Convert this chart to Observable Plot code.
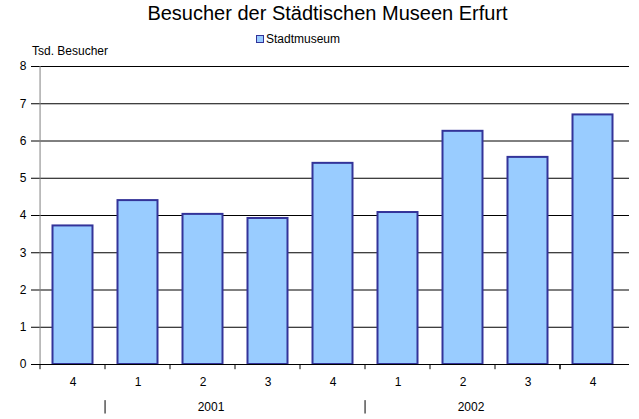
<!DOCTYPE html>
<html><head><meta charset="utf-8">
<script src="https://cdn.jsdelivr.net/npm/d3@7"></script>
<script src="https://cdn.jsdelivr.net/npm/@observablehq/plot@0.6"></script>
<style>
body{margin:0;background:#fff;font-family:"Liberation Sans",Arial,sans-serif;}
#wrap{position:relative;width:639px;height:419px;}
#title{position:absolute;left:8px;width:639px;top:2px;text-align:center;font-size:20px;color:#000;}
#ylab{position:absolute;left:32px;top:44px;font-size:12px;}
#legend{position:absolute;left:256px;top:32px;font-size:12px;display:flex;align-items:center;}
#legend span.sw{display:inline-block;width:6px;height:6px;background:#99CCFF;border:1.5px solid #333399;margin-right:2px;}
svg{position:absolute;left:0;top:0;}
</style></head>
<body><div id="wrap">
<div id="title">Besucher der Städtischen Museen Erfurt</div>
<div id="ylab">Tsd. Besucher</div>
<div id="legend"><span class="sw"></span>Stadtmuseum</div>
</div>
<script>
const slots = ["0","1","2","3","4","5","6","7","8"];
const quarters = ["4","1","2","3","4","1","2","3","4"];
const values = [3.72, 4.40, 4.03, 3.92, 5.40, 4.08, 6.26, 5.56, 6.70];
const years = ["2001", "2002"];
const yearSlots = ["2", "6"];
const yearStartSlots = ["1", "5"];
const yTicks = [0,1,2,3,4,5,6,7,8];

const data = slots.map((s,i)=>({slot:s, q:quarters[i], v:values[i]}));
const W = 639, H = 419, mL = 36, mR = 10, mT = 66, mB = 55;
const bw = (W - mL - mR) / slots.length;
const boundaries = slots.map(s=>({slot:s, side:-1})).concat([{slot:slots[slots.length-1], side:1}]);

const chart = Plot.plot({
  width: W, height: H,
  marginLeft: mL, marginRight: mR, marginTop: mT, marginBottom: mB,
  style: {fontFamily: "Liberation Sans, Arial, sans-serif", fontSize: "12px", background: "transparent", color: "#000"},
  x: {type: "band", domain: slots, padding: 0, axis: null},
  y: {domain: [0, 8], ticks: yTicks, tickSize: 5, tickPadding: 5, label: null, tickFormat: d => String(d)},
  marks: [
    Plot.ruleY(yTicks.filter(d=>d>0), {stroke: "#000", strokeWidth: 1}),
    Plot.rectY(data, {x: "slot", y: "v", fill: "#99CCFF", stroke: "#333399", strokeWidth: 2, insetLeft: 12.5, insetRight: 12.5}),
    Plot.ruleX([slots[0]], {x: d => d, y1: 0, y2: 8, dx: -bw/2, stroke: "#808080"}),
    Plot.ruleY([0], {stroke: "#000"}),
    Plot.ruleX(boundaries, {x: "slot", y1: 0, y2: -0.14, dx: d => d.side*bw/2, stroke: "#000"}),
    Plot.text(data, {x: "slot", y: 0, dy: 18, text: "q", fontSize: 12}),
    Plot.ruleX(yearStartSlots, {x: d=>d, y1: -0.97, y2: -1.33, dx: -bw/2, stroke: "#000"}),
    Plot.text(years, {x: (d,i)=>yearSlots[i], y: 0, dy: 43, dx: 8, text: d=>d, fontSize: 12})
  ]
});
document.getElementById("wrap").appendChild(chart);
</script>
</body></html>
